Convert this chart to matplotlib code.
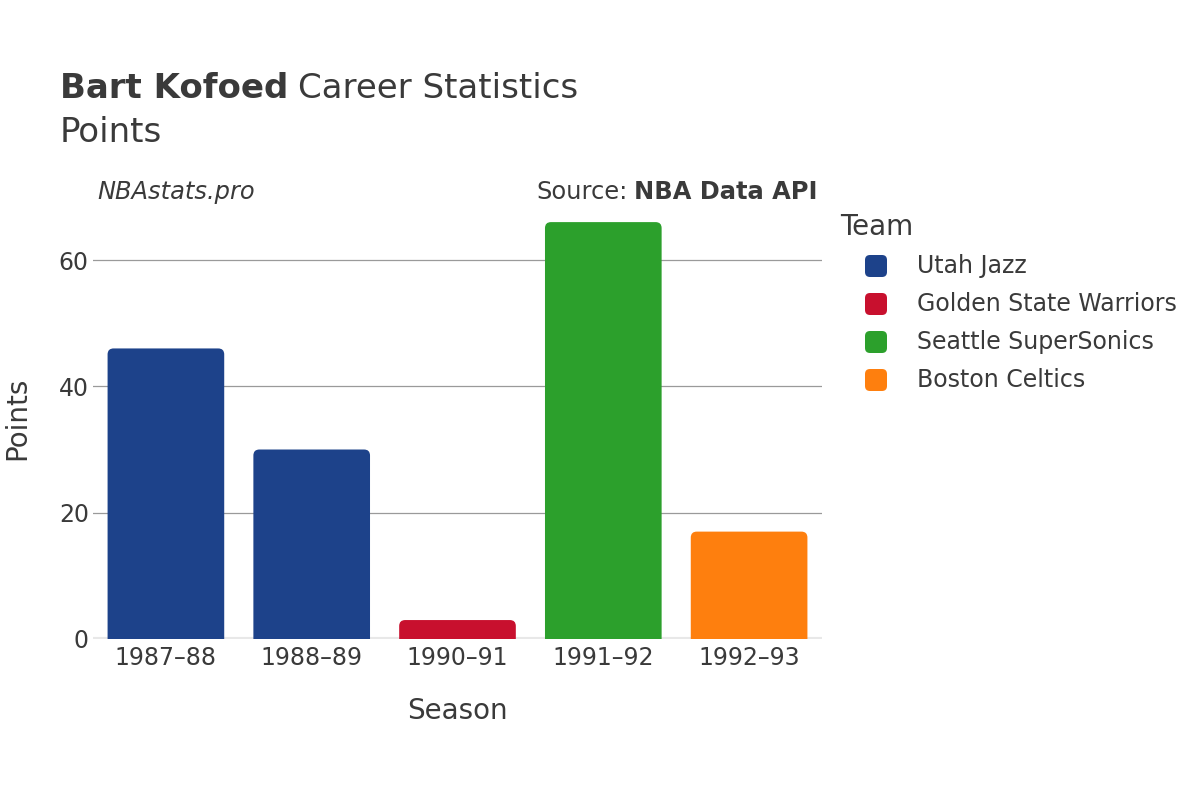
import numpy as np
import matplotlib
matplotlib.use("Agg")
import matplotlib.pyplot as plt
from matplotlib.path import Path
from matplotlib.patches import PathPatch, FancyBboxPatch
from matplotlib.transforms import IdentityTransform

# data
seasons = ['1987–88', '1988–89', '1990–91', '1991–92', '1992–93']
points = [46, 30, 3, 66, 17]
bar_teams = ['Utah Jazz', 'Utah Jazz', 'Golden State Warriors', 'Seattle SuperSonics', 'Boston Celtics']
teams = ['Utah Jazz', 'Golden State Warriors', 'Seattle SuperSonics', 'Boston Celtics']
team_colors = ['#1d428a', '#c8102e', '#2ca02c', '#fe7f0e']
yticks = [0, 20, 40, 60]

color_of = dict(zip(teams, team_colors))
text_col = '#3a3a3a'
W, H = 1200, 800

plt.rcParams['font.family'] = ['DejaVu Sans']
fig = plt.figure(figsize=(12, 8), dpi=100)
ax = fig.add_axes([93 / W, 1 - 639 / H, 729 / W, 439 / H])

x = np.arange(len(seasons))
bars = ax.bar(x, points, width=0.8, color=[color_of[t] for t in bar_teams], zorder=3)
ax.set_xlim(-0.5, len(seasons) - 0.5)
ax.set_ylim(0, 69.5)

# swap plain bars for rounded-top ones (radius ~6 px)
fig.canvas.draw()
px_x = ax.transData.transform((1, 0))[0] - ax.transData.transform((0, 0))[0]
px_y = ax.transData.transform((0, 1))[1] - ax.transData.transform((0, 0))[1]
r = 6
for b in bars:
    x0, w, h = b.get_x(), b.get_width(), b.get_height()
    rx, ry = r / px_x, min(r / px_y, h / 2)
    verts = [(x0, 0), (x0, h - ry), (x0, h), (x0 + rx, h), (x0 + w - rx, h),
             (x0 + w, h), (x0 + w, h - ry), (x0 + w, 0), (x0, 0)]
    codes = [Path.MOVETO, Path.LINETO, Path.CURVE3, Path.CURVE3, Path.LINETO,
             Path.CURVE3, Path.CURVE3, Path.LINETO, Path.CLOSEPOLY]
    ax.add_patch(PathPatch(Path(verts, codes), facecolor=b.get_facecolor(),
                           edgecolor='none', zorder=3))
    b.remove()

for s in ax.spines.values():
    s.set_visible(False)
ax.set_yticks(yticks)
ax.set_xticks(x)
ax.set_xticklabels(seasons)
ax.tick_params(axis='both', length=0, labelsize=17, labelcolor=text_col)
ax.tick_params(axis='x', pad=5)
ax.tick_params(axis='y', pad=3)
ax.grid(axis='y', color='#9a9a9a', linewidth=0.9, zorder=0)
ax.axhline(0, color='#e8e8e8', linewidth=3, zorder=2)

fig.text(457 / W, 1 - 711 / H, 'Season', fontsize=20, color=text_col,
         ha='center', va='center')
fig.text(17 / W, 1 - 418 / H, 'Points', rotation=90, fontsize=20,
         color=text_col, ha='center', va='center')

# title
t1 = fig.text(60 / W, 1 - 89 / H, 'Bart Kofoed', fontsize=24.5, fontweight='bold',
              color=text_col, ha='left', va='center')
fig.canvas.draw()
bb = t1.get_window_extent()
fig.text(bb.x1 / W + 0.008, 1 - 89 / H, 'Career Statistics', fontsize=24.5,
         color=text_col, ha='left', va='center')
fig.text(60 / W, 1 - 133 / H, 'Points', fontsize=24.5, color=text_col,
         ha='left', va='center')

fig.text(97 / W, 1 - 192 / H, 'NBAstats.pro', fontsize=17.4, style='italic',
         color=text_col, ha='left', va='center')
t2 = fig.text(818 / W, 1 - 192 / H, 'NBA Data API', fontsize=17.4, fontweight='bold',
              color=text_col, ha='right', va='center')
fig.canvas.draw()
bb2 = t2.get_window_extent()
fig.text(bb2.x0 / W - 0.006, 1 - 192 / H, 'Source:', fontsize=17.4,
         color=text_col, ha='right', va='center')

# legend
fig.text(840 / W, 1 - 227 / H, 'Team', fontsize=20, color=text_col,
         ha='left', va='center')
for i, (team, col) in enumerate(zip(teams, team_colors)):
    yc = H - (266 + 38 * i)
    fig.patches.append(FancyBboxPatch((865, yc - 11), 22, 22,
                                      boxstyle='round,pad=0,rounding_size=5',
                                      facecolor=col, edgecolor='none',
                                      transform=IdentityTransform(), figure=fig))
    fig.text(917 / W, yc / H, team, fontsize=17, color=text_col,
             ha='left', va='center')

fig.savefig('out.png', dpi=100, facecolor='white')
